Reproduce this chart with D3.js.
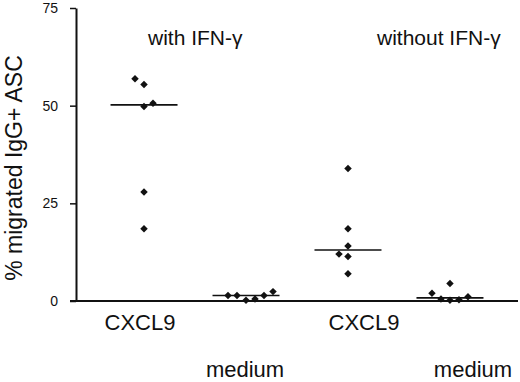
<!DOCTYPE html>
<html>
<head>
<meta charset="utf-8">
<script src="https://cdn.jsdelivr.net/npm/d3@7"></script>
<style>
  body { margin: 0; background: #fff; }
  svg { display: block; font-family: "Liberation Sans", Arial, sans-serif; }
</style>
</head>
<body>
<div id="chart"></div>
<script>
// data
const categories = ['CXCL9', 'medium', 'CXCL9', 'medium'];
const conditions = ['with IFN-\u03b3', 'without IFN-\u03b3'];
const yTicks = [0, 25, 50, 75];

const cxcl9WithIfn = [56.9, 55.4, 49.8, 50.6, 27.9, 18.5];
const mediumWithIfn = [1.4, 1.4, 0.2, 0.5, 1.4, 2.4];
const cxcl9WithoutIfn = [33.9, 18.5, 14.1, 12.0, 11.4, 7.0];
const mediumWithoutIfn = [2.0, 0.5, 0.2, 0.3, 1.1, 4.5];

// horizontal dodge slot of each point inside its column
const cxcl9WithIfnSlot = [-1, 0, 0, 1, 0, 0];
const mediumWithIfnSlot = [-2, -1, 0, 1, 2, 3];
const cxcl9WithoutIfnSlot = [0, 0, 0, -1, 0, 0];
const mediumWithoutIfnSlot = [-2, -1, 0, 1, 2, 0];

const groups = [
  { cat: 0, values: cxcl9WithIfn, slots: cxcl9WithIfnSlot },
  { cat: 1, values: mediumWithIfn, slots: mediumWithIfnSlot },
  { cat: 2, values: cxcl9WithoutIfn, slots: cxcl9WithoutIfnSlot },
  { cat: 3, values: mediumWithoutIfn, slots: mediumWithoutIfnSlot },
];

const width = 520;
const height = 382;
const axisX = 76;
const axisRight = 518;
const slotW = 9;
const medianHalf = 33.5;

const svg = d3.select('#chart').append('svg')
  .attr('width', width)
  .attr('height', height);

const x = d3.scalePoint()
  .domain(d3.range(categories.length))
  .range([axisX, axisRight])
  .padding(0.667);

const y = d3.scaleLinear()
  .domain([0, 75])
  .range([301, 8]);

// y axis
const yAxisG = svg.append('g')
  .attr('transform', `translate(${axisX},0)`)
  .call(d3.axisLeft(y)
    .tickValues(yTicks)
    .tickSize(6)
    .tickSizeOuter(0)
    .tickPadding(12));
yAxisG.select('.domain').attr('stroke', '#111').attr('stroke-width', 2);
yAxisG.selectAll('.tick line').attr('stroke', '#111').attr('stroke-width', 1.5);
yAxisG.selectAll('.tick text')
  .attr('font-size', 14)
  .attr('fill', '#111')
  .attr('font-family', '"Liberation Sans", Arial, sans-serif');

// x axis baseline
svg.append('line')
  .attr('x1', axisX - 6)
  .attr('x2', axisRight)
  .attr('y1', y(0))
  .attr('y2', y(0))
  .attr('stroke', '#111')
  .attr('stroke-width', 2);

// y title
svg.append('text')
  .attr('transform', 'translate(22,168) rotate(-90)')
  .attr('text-anchor', 'middle')
  .attr('font-size', 23)
  .attr('fill', '#111')
  .text('% migrated IgG+ ASC');

// category labels, staggered on two rows
const labelNudge = [-4, -1, 16, 23];
svg.selectAll('text.cat-label')
  .data(categories)
  .join('text')
  .attr('class', 'cat-label')
  .attr('text-anchor', 'middle')
  .attr('x', (d, i) => x(i) + labelNudge[i])
  .attr('y', (d, i) => (i % 2 === 0 ? 330 : 377))
  .attr('font-size', 22)
  .attr('fill', '#111')
  .text((d) => d);

// condition titles
svg.selectAll('text.cond-label')
  .data(conditions)
  .join('text')
  .attr('class', 'cond-label')
  .attr('x', (d, i) => x(i * 2) + (i === 0 ? 4 : 29))
  .attr('y', 45)
  .attr('font-size', 21)
  .attr('fill', '#111')
  .text((d) => d);

// median lines
svg.selectAll('line.median')
  .data(groups)
  .join('line')
  .attr('class', 'median')
  .attr('x1', (d) => x(d.cat) - medianHalf)
  .attr('x2', (d) => x(d.cat) + medianHalf)
  .attr('y1', (d) => y(d3.median(d.values)))
  .attr('y2', (d) => y(d3.median(d.values)))
  .attr('stroke', '#111')
  .attr('stroke-width', 1.6);

// points
const diamond = d3.symbol(d3.symbolSquare, 28);
const points = groups.flatMap((g) => g.values.map((v, i) => ({ cat: g.cat, value: v, slot: g.slots[i] })));

svg.selectAll('path.pt')
  .data(points)
  .join('path')
  .attr('class', 'pt')
  .attr('d', diamond)
  .attr('fill', '#111')
  .attr('transform', (d) => `translate(${x(d.cat) + d.slot * slotW},${y(d.value)}) rotate(45)`);
</script>
</body>
</html>
